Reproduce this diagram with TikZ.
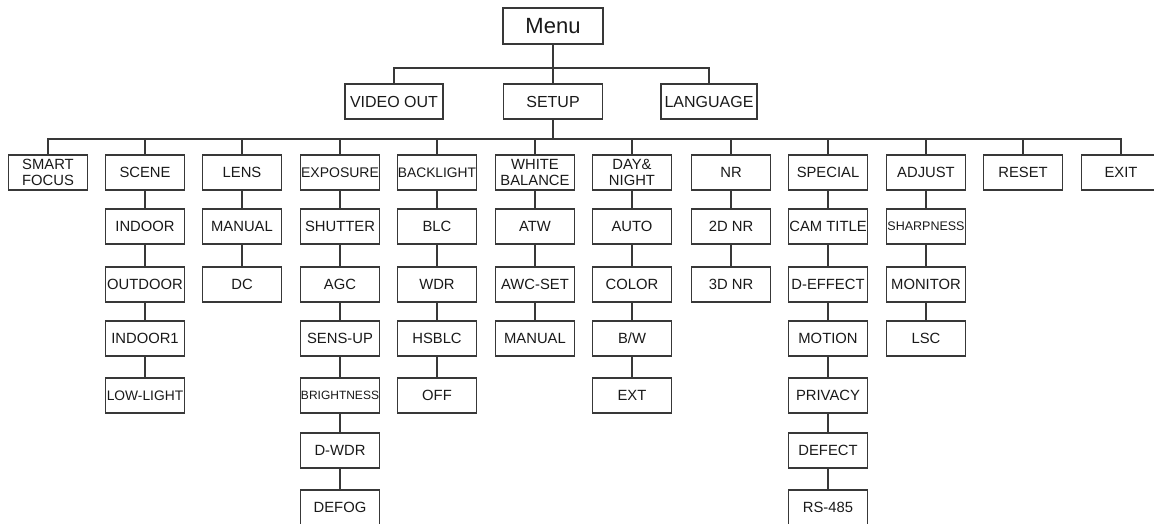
\documentclass[tikz,border=0pt]{standalone}
\usepackage{fontspec}
\setmainfont{Liberation Sans}
\begin{document}
\begin{tikzpicture}[x=1pt,y=-1pt,
  line/.style={draw=black!78,line width=1.1pt},
  box/.style={line, rectangle, minimum width=79pt, minimum height=35pt, inner sep=0pt,
    text=black!90, align=center, font=\fontsize{14.8}{16.5}\selectfont},
  topbox/.style={box, minimum width=99pt, font=\fontsize{16}{18}\selectfont},
  menubox/.style={box, minimum width=100pt, minimum height=36pt, font=\fontsize{22}{24}\selectfont}]
\useasboundingbox (0,0) rectangle (1154,524);
\clip (0,0) rectangle (1154,524);
% top levels
\node[menubox] (menu) at (553,26) {Menu};
\node[topbox, minimum width=98pt] (vo) at (394,101.5) {VIDEO OUT};
\node[topbox] (setup) at (553,101.5) {SETUP};
\node[topbox, minimum width=96pt] (lang) at (709,101.5) {LANGUAGE};
\coordinate (b1) at (553,68);
\draw[line] (menu.south) -- (setup.north);
\draw[line] (vo.north) |- (b1) -| (lang.north);
% level 2
\def\ra{172.5}\def\rb{226.5}\def\rc{284.5}\def\rd{338.5}\def\re{395.5}\def\rf{450.5}\def\rg{507.5}
\node[box] (sf) at (48,\ra) {SMART\\FOCUS};
\node[box] (scene) at (145,\ra) {SCENE};
\node[box] (lens) at (242,\ra) {LENS};
\node[box] (expo) at (340,\ra) {\fontsize{14}{16}\selectfont EXPOSURE};
\node[box] (back) at (437,\ra) {\fontsize{13.8}{16}\selectfont BACKLIGHT};
\node[box] (wb) at (535,\ra) {WHITE\\BALANCE};
\node[box] (dn) at (632,\ra) {DAY\&\\NIGHT};
\node[box] (nr) at (731,\ra) {NR};
\node[box] (spec) at (828,\ra) {SPECIAL};
\node[box] (adj) at (926,\ra) {ADJUST};
\node[box] (reset) at (1023,\ra) {RESET};
\node[box] (exit) at (1121,\ra) {EXIT};
\coordinate (b2) at (553,139);
\draw[line] (setup.south) -- (b2);
\draw[line] (sf.north) |- (b2) -| (exit.north);
\foreach \n in {scene,lens,expo,back,wb,dn,nr,spec,adj,reset}
  \draw[line] (\n.north) -- (\n.north |- b2);
% scene
\node[box] (s1) at (145,\rb) {INDOOR};
\node[box] (s2) at (145,\rc) {OUTDOOR};
\node[box] (s3) at (145,\rd) {INDOOR1};
\node[box] (s4) at (145,\re) {\fontsize{13.8}{16}\selectfont LOW-LIGHT};
% lens
\node[box] (l1) at (242,\rb) {MANUAL};
\node[box] (l2) at (242,\rc) {DC};
% exposure
\node[box] (e1) at (340,\rb) {SHUTTER};
\node[box] (e2) at (340,\rc) {AGC};
\node[box] (e3) at (340,\rd) {SENS-UP};
\node[box] (e4) at (340,\re) {\fontsize{12}{14}\selectfont BRIGHTNESS};
\node[box] (e5) at (340,\rf) {D-WDR};
\node[box] (e6) at (340,\rg) {DEFOG};
% backlight
\node[box] (k1) at (437,\rb) {BLC};
\node[box] (k2) at (437,\rc) {WDR};
\node[box] (k3) at (437,\rd) {HSBLC};
\node[box] (k4) at (437,\re) {OFF};
% white balance
\node[box] (w1) at (535,\rb) {ATW};
\node[box] (w2) at (535,\rc) {AWC-SET};
\node[box] (w3) at (535,\rd) {MANUAL};
% day night
\node[box] (d1) at (632,\rb) {AUTO};
\node[box] (d2) at (632,\rc) {COLOR};
\node[box] (d3) at (632,\rd) {B/W};
\node[box] (d4) at (632,\re) {EXT};
% nr
\node[box] (n1) at (731,\rb) {2D NR};
\node[box] (n2) at (731,\rc) {3D NR};
% special
\node[box] (p1) at (828,\rb) {CAM TITLE};
\node[box] (p2) at (828,\rc) {D-EFFECT};
\node[box] (p3) at (828,\rd) {MOTION};
\node[box] (p4) at (828,\re) {PRIVACY};
\node[box] (p5) at (828,\rf) {DEFECT};
\node[box] (p6) at (828,\rg) {RS-485};
% adjust
\node[box] (a1) at (926,\rb) {\fontsize{12.5}{14}\selectfont SHARPNESS};
\node[box] (a2) at (926,\rc) {MONITOR};
\node[box] (a3) at (926,\rd) {LSC};
% chains
\foreach \u/\v in {scene/s1,s1/s2,s2/s3,s3/s4,lens/l1,l1/l2,
  expo/e1,e1/e2,e2/e3,e3/e4,e4/e5,e5/e6,back/k1,k1/k2,k2/k3,k3/k4,
  wb/w1,w1/w2,w2/w3,dn/d1,d1/d2,d2/d3,d3/d4,nr/n1,n1/n2,
  spec/p1,p1/p2,p2/p3,p3/p4,p4/p5,p5/p6,adj/a1,a1/a2,a2/a3}
  \draw[line] (\u.south) -- (\v.north);
\end{tikzpicture}
\end{document}
